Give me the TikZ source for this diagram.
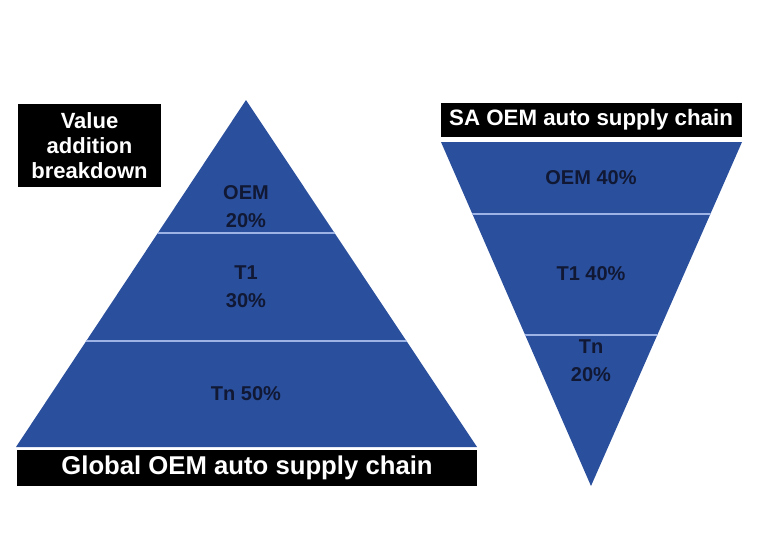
\documentclass[tikz,border=0pt]{standalone}
\usepackage{fontspec}
\setmainfont{Liberation Sans}
\definecolor{pyrblue}{HTML}{2A4F9C}
\definecolor{labnavy}{HTML}{111833}
\definecolor{divline}{HTML}{9DB3E6}
\begin{document}
\begin{tikzpicture}[x=1pt,y=-1pt,
  blackbox/.style={fill=black,draw=none},
  boxtext/.style={text=white,font=\bfseries\fontsize{#1}{#1}\selectfont,inner sep=0pt,align=center},
  layertext/.style={text=labnavy,font=\bfseries\fontsize{20}{28}\selectfont,inner sep=0pt,align=center},
  divider/.style={draw=divline,line width=1.2pt}]
\useasboundingbox (0,0) rectangle (772,541);
\fill[white] (0,0) rectangle (772,541);
% left pyramid
\begin{scope}
\fill[pyrblue] (246,100) -- (477,447) -- (16,447) -- cycle;
\clip (246,100) -- (477,447) -- (16,447) -- cycle;
\draw[divider] (0,233) -- (500,233);
\draw[divider] (0,341) -- (500,341);
\end{scope}
% right inverted pyramid
\begin{scope}
\fill[pyrblue] (441,142) -- (742,142) -- (591,486) -- cycle;
\clip (441,142) -- (742,142) -- (591,486) -- cycle;
\draw[divider] (420,214) -- (760,214);
\draw[divider] (420,335) -- (760,335);
\end{scope}
% black boxes
\fill[blackbox] (18,104) rectangle (161,187);
\node[boxtext=22, font=\bfseries\fontsize{22}{25}\selectfont] (vab) at (89.5,146) {Value\\addition\\breakdown};
\fill[blackbox] (17,450) rectangle (477,486);
\node[boxtext=25.7] (glob) at (247,468) {Global OEM auto supply chain};
\fill[blackbox] (441,103) rectangle (742,137);
\node[boxtext=22.3] (sa) at (591,120) {SA OEM auto supply chain};
% layer labels left
\node[layertext] (loem) at (246,207) {OEM\\20\%};
\node[layertext] (lt1) at (246,287) {T1\\30\%};
\node[layertext] (ltn) at (246,394) {Tn 50\%};
% layer labels right
\node[layertext] (roem) at (591,178) {OEM 40\%};
\node[layertext] (rt1) at (591,274) {T1 40\%};
\node[layertext] (rtn) at (591,361) {Tn\\20\%};
\end{tikzpicture}
\end{document}
